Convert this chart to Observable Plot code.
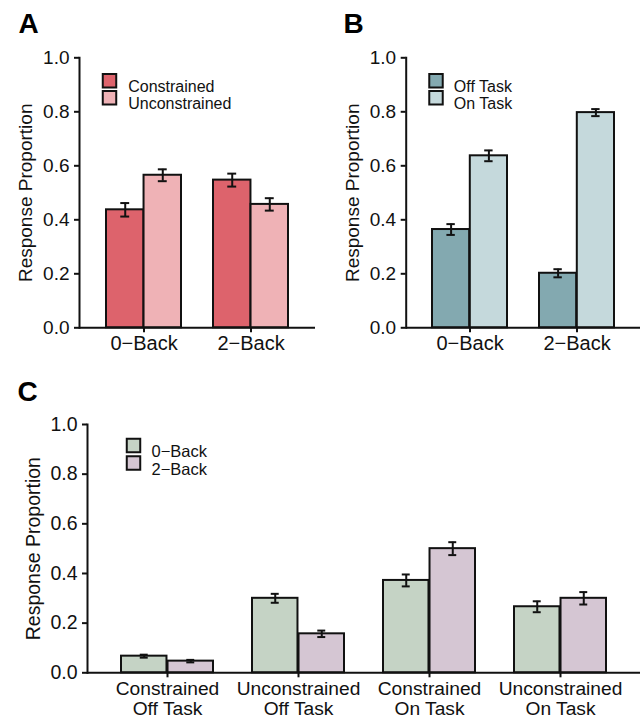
<!DOCTYPE html>
<html>
<head>
<meta charset="utf-8">
<script src="https://cdn.jsdelivr.net/npm/d3@7"></script>
<script src="https://cdn.jsdelivr.net/npm/@observablehq/plot@0.6"></script>
<style>
  html, body { margin: 0; padding: 0; background: #fff; }
  #wrap { position: relative; width: 643px; height: 721px; overflow: hidden; background: #fff; }
  .pane { position: absolute; }
</style>
</head>
<body>
<div id="wrap">
  <div class="pane" id="pA" style="left:0px;top:0px;"></div>
  <div class="pane" id="pB" style="left:320px;top:0px;"></div>
  <div class="pane" id="pC" style="left:0px;top:370px;"></div>
</div>
<script>
// ---------- data ----------
const groupsAB = ["0−Back", "2−Back"];
const seriesA = ["Constrained", "Unconstrained"];
const valuesAConstrained = [0.437, 0.547];
const valuesAUnconstrained = [0.565, 0.457];
const errAConstrained = [0.025, 0.024];
const errAUnconstrained = [0.022, 0.023];
const colorsA = ["#dd636c", "#efb2b6"];

const seriesB = ["Off Task", "On Task"];
const valuesBOff = [0.364, 0.202];
const valuesBOn = [0.637, 0.797];
const errBOff = [0.020, 0.015];
const errBOn = [0.020, 0.013];
const colorsB = ["#83a9b0", "#c5d9dc"];

const groupsC = ["Constrained\nOff Task", "Unconstrained\nOff Task", "Constrained\nOn Task", "Unconstrained\nOn Task"];
const seriesC = ["0−Back", "2−Back"];
const valuesC0 = [0.067, 0.300, 0.372, 0.266];
const valuesC2 = [0.047, 0.157, 0.500, 0.300];
const errC0 = [0.006, 0.018, 0.024, 0.022];
const errC2 = [0.005, 0.013, 0.026, 0.025];
const colorsC = ["#c5d3c5", "#d5c6d3"];

const yTicks = [0, 0.2, 0.4, 0.6, 0.8, 1.0];
const yTitle = "Response Proportion";

// ---------- panel builder ----------
function panel(cfg) {
  const {groups, series, values, errors, colors, width, height,
         marginLeft, marginRight, marginTop, marginBottom, padIn, padOut,
         letter, letterDx, letterDy, legDx, legTextDx, legDy, legStep, legFont,
         tickFont, xFont, xLineHeight, xPad, labelOffset} = cfg;
  const step = (width - marginLeft - marginRight) / (groups.length - padIn + 2 * padOut);
  const bw = step * (1 - padIn);
  const half = bw / 2, q = bw / 4, cap = 4.5;
  const marks = [];
  series.forEach((s, i) => {
    const d = groups.map((g, j) => ({group: g, series: s, value: values[i][j], err: errors[i][j]}));
    marks.push(Plot.barY(d, {
      x: "group", y: "value", fill: colors[i], stroke: "#111", strokeWidth: 2,
      insetLeft: i === 0 ? 0 : half, insetRight: i === 0 ? half : 0
    }));
  });
  series.forEach((s, i) => {
    const d = groups.map((g, j) => ({group: g, value: values[i][j], err: errors[i][j]}));
    const off = i === 0 ? -q : q;
    marks.push(Plot.ruleX(d, {x: "group", y1: r => r.value - r.err, y2: r => r.value + r.err, dx: off, stroke: "#111", strokeWidth: 2}));
    const il = i === 0 ? q - cap : 3 * q - cap;
    const ir = i === 0 ? 3 * q - cap : q - cap;
    marks.push(Plot.tickY(d, {x: "group", y: r => r.value + r.err, insetLeft: il, insetRight: ir, stroke: "#111", strokeWidth: 2}));
    marks.push(Plot.tickY(d, {x: "group", y: r => r.value - r.err, insetLeft: il, insetRight: ir, stroke: "#111", strokeWidth: 2}));
  });
  // legend
  series.forEach((s, i) => {
    marks.push(Plot.dot([s], {frameAnchor: "top-left", dx: legDx, dy: legDy + i * legStep, symbol: "square", r: 7.6, fill: colors[i], stroke: "#111", strokeWidth: 2}));
    marks.push(Plot.text([s], {text: d => d, frameAnchor: "top-left", dx: legTextDx, dy: legDy + i * legStep, textAnchor: "start", fontSize: legFont, fill: "#111"}));
  });
  // panel letter
  marks.push(Plot.text([letter], {text: d => d, frameAnchor: "top-left", dx: letterDx, dy: letterDy, textAnchor: "start", lineAnchor: "bottom", fontSize: 28, fontWeight: "bold", fill: "#000"}));
  // axes
  marks.push(Plot.axisY({ticks: yTicks, tickFormat: d3.format(".1f"), tickSize: 5, tickPadding: 5, fontSize: tickFont, strokeWidth: 2,
    label: yTitle, labelAnchor: "center", labelArrow: "none", labelOffset: labelOffset}));
  marks.push(Plot.axisX({tickSize: 5, tickPadding: xPad, fontSize: xFont, lineHeight: xLineHeight, strokeWidth: 2, label: null}));
  marks.push(Plot.frame({anchor: "left", stroke: "#111", strokeWidth: 2}));
  marks.push(Plot.ruleY([0], {stroke: "#111", strokeWidth: 2}));

  return Plot.plot({
    width, height, marginLeft, marginRight, marginTop, marginBottom,
    style: {fontFamily: "'Liberation Sans', Arial, Helvetica, sans-serif", color: "#111", background: "#fff", overflow: "visible"},
    x: {domain: groups, paddingInner: padIn, paddingOuter: padOut, label: null},
    y: {domain: [0, 1], label: null},
    marks
  });
}

document.getElementById("pA").appendChild(panel({
  groups: groupsAB, series: seriesA,
  values: [valuesAConstrained, valuesAUnconstrained], errors: [errAConstrained, errAUnconstrained], colors: colorsA,
  width: 320, height: 360, marginLeft: 79, marginRight: 5, marginTop: 57.3, marginBottom: 32.7,
  padIn: 0.30, padOut: 0.25,
  letter: "A", letterDx: -61, letterDy: -25.3,
  legDx: 30, legTextDx: 48.7, legDy: 23, legStep: 17, legFont: 16,
  tickFont: 19, xFont: 20, xLineHeight: 1, xPad: 3, labelOffset: 61
}));

document.getElementById("pB").appendChild(panel({
  groups: groupsAB, series: seriesB,
  values: [valuesBOff, valuesBOn], errors: [errBOff, errBOn], colors: colorsB,
  width: 323, height: 360, marginLeft: 85.7, marginRight: 3, marginTop: 57.3, marginBottom: 32.7,
  padIn: 0.295, padOut: 0.24,
  letter: "B", letterDx: -62.7, letterDy: -25.3,
  legDx: 29.8, legTextDx: 47.6, legDy: 23, legStep: 17, legFont: 16,
  tickFont: 19, xFont: 20, xLineHeight: 1, xPad: 3, labelOffset: 61
}));

document.getElementById("pC").appendChild(panel({
  groups: groupsC, series: seriesC,
  values: [valuesC0, valuesC2], errors: [errC0, errC2], colors: colorsC,
  width: 643, height: 351, marginLeft: 87, marginRight: 3, marginTop: 54, marginBottom: 48.7,
  padIn: 0.295, padOut: 0.2425,
  letter: "C", letterDx: -70, letterDy: -24,
  legDx: 46, legTextDx: 64, legDy: 21, legStep: 17.5, legFont: 16.5,
  tickFont: 19.5, xFont: 19.2, xLineHeight: 1.07, xPad: 2.5, labelOffset: 61.5
}));
</script>
</body>
</html>
